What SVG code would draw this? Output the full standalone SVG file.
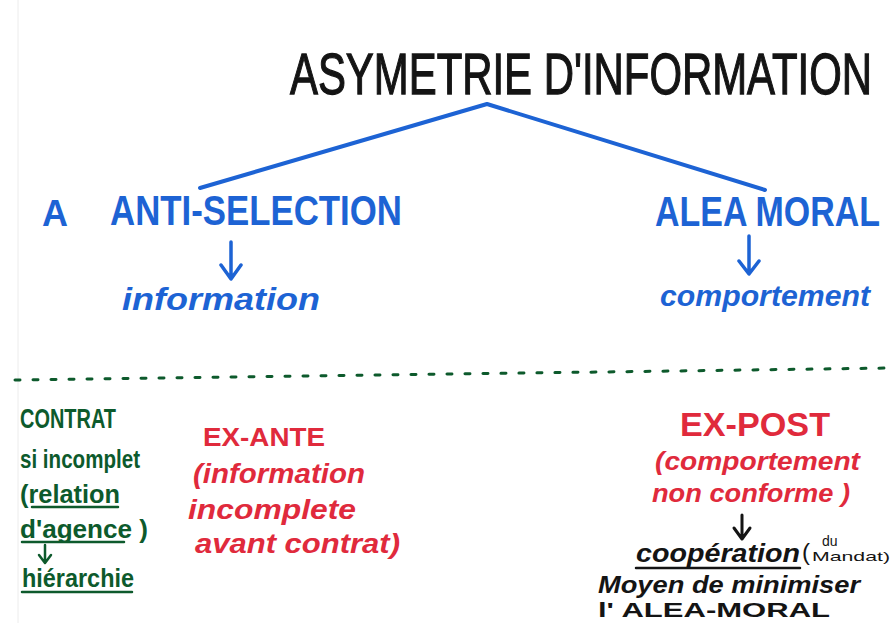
<svg xmlns="http://www.w3.org/2000/svg" width="893" height="623" viewBox="0 0 893 623">
<defs>
<style>
.t{font-family:"Liberation Sans","DejaVu Sans",sans-serif}
.caps{font-weight:bold}
.scr{font-style:italic;font-weight:bold}
.blue{fill:#1d63d4}
.red{fill:#e02a3c}
.green{fill:#0d5a2c;font-weight:bold}
.black{fill:#141414}
.ln{fill:none;stroke-linecap:round;stroke-linejoin:round}
</style>
</defs>
<rect width="893" height="623" fill="#ffffff"/>
<line x1="18" y1="0" x2="18" y2="623" stroke="#ececec" stroke-width="1"/>

<g id="title">
<text class="t black" transform="translate(290,94) scale(1,1.39)" x="0" y="0" font-size="41.7" stroke="#141414" stroke-width="0.9" textLength="582" lengthAdjust="spacingAndGlyphs">ASYMETRIE D'INFORMATION</text>
</g>

<g id="connectors">
<path class="ln" d="M200,188 L487,104 L765,190" stroke="#1d63d4" stroke-width="4"/>
<path class="ln" d="M231,242 L231,278 M221,265 L231,279 L241,265" stroke="#1d63d4" stroke-width="3.5"/>
<path class="ln" d="M749,236 L749,273 M739,261 L749,274 L759,261" stroke="#1d63d4" stroke-width="3.5"/>
<path class="ln" d="M15,380 L893,368" stroke="#0d5a2c" stroke-width="3" stroke-dasharray="5,13"/>
<path class="ln" d="M45,545 L45,562 M39,555 L45,563 L51,555" stroke="#0d5a2c" stroke-width="2.5"/>
<path class="ln" d="M742,515 L742,538 M734,528 L742,539 L750,528" stroke="#141414" stroke-width="3"/>
</g>

<g id="anti-selection">
<text class="t caps blue" x="42" y="226" font-size="36">A</text>
<text class="t caps blue" transform="translate(110,225) scale(1,1.2)" x="0" y="0" font-size="35" textLength="292" lengthAdjust="spacingAndGlyphs">ANTI-SELECTION</text>
</g>
<g id="information">
<text class="t scr blue" x="122" y="310" font-size="32" textLength="198" lengthAdjust="spacingAndGlyphs">information</text>
</g>

<g id="alea-moral">
<text class="t caps blue" transform="translate(655,226) scale(1,1.24)" x="0" y="0" font-size="33.7" textLength="225" lengthAdjust="spacingAndGlyphs">ALEA MORAL</text>
</g>
<g id="comportement">
<text class="t scr blue" x="660" y="306" font-size="30" textLength="210" lengthAdjust="spacingAndGlyphs">comportement</text>
</g>

<g id="contrat">
<text class="t green" x="20" y="428" font-size="27" textLength="96" lengthAdjust="spacingAndGlyphs">CONTRAT</text>
<text class="t green" x="20" y="468" font-size="25" textLength="120" lengthAdjust="spacingAndGlyphs">si incomplet</text>
<text class="t green" x="20" y="503" font-size="26" textLength="100" lengthAdjust="spacingAndGlyphs">(relation</text>
<line x1="32" y1="507" x2="118" y2="507" stroke="#0d5a2c" stroke-width="2.5" stroke-linecap="round"/>
<text class="t green" x="20" y="538" font-size="26" textLength="128" lengthAdjust="spacingAndGlyphs">d'agence )</text>
<line x1="22" y1="542" x2="124" y2="542" stroke="#0d5a2c" stroke-width="2.5" stroke-linecap="round"/>
<text class="t green" x="22" y="587" font-size="25" textLength="112" lengthAdjust="spacingAndGlyphs">hiérarchie</text>
<line x1="22" y1="592" x2="132" y2="592" stroke="#0d5a2c" stroke-width="2.5" stroke-linecap="round"/>
</g>

<g id="ex-ante">
<text class="t caps red" x="203" y="446" font-size="25" textLength="122" lengthAdjust="spacingAndGlyphs">EX-ANTE</text>
<text class="t scr red" x="193" y="483" font-size="28" textLength="172" lengthAdjust="spacingAndGlyphs">(information</text>
<text class="t scr red" x="188" y="519" font-size="28" textLength="168" lengthAdjust="spacingAndGlyphs">incomplete</text>
<text class="t scr red" x="195" y="553" font-size="28" textLength="205" lengthAdjust="spacingAndGlyphs">avant contrat)</text>
</g>

<g id="ex-post">
<text class="t caps red" x="680" y="436" font-size="33" textLength="150" lengthAdjust="spacingAndGlyphs">EX-POST</text>
<text class="t scr red" x="655" y="470" font-size="26" textLength="205" lengthAdjust="spacingAndGlyphs">(comportement</text>
<text class="t scr red" x="652" y="502" font-size="26" textLength="198" lengthAdjust="spacingAndGlyphs">non conforme )</text>
</g>

<g id="cooperation">
<text class="t scr black" x="636" y="562" font-size="25" textLength="164" lengthAdjust="spacingAndGlyphs">coopération</text>
<line x1="636" y1="568" x2="800" y2="568" stroke="#141414" stroke-width="2.5" stroke-linecap="round"/>
<text class="t black" x="802" y="560" font-size="24">(</text>
<text class="t black" x="822" y="546" font-size="14">du</text>
<text class="t black" x="812" y="561" font-size="13" textLength="78" lengthAdjust="spacingAndGlyphs">Mandat)</text>
<text class="t scr black" x="598" y="593" font-size="24" textLength="262" lengthAdjust="spacingAndGlyphs">Moyen de minimiser</text>
<text class="t caps black" x="598" y="617" font-size="21" textLength="232" lengthAdjust="spacingAndGlyphs">l' ALEA-MORAL</text>
</g>
</svg>
